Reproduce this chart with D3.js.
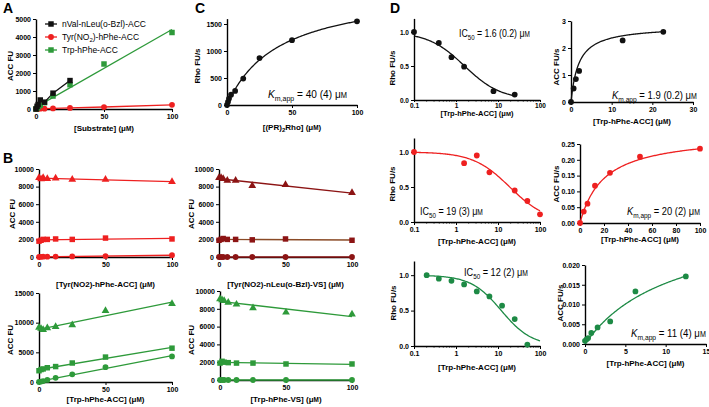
<!DOCTYPE html>
<html><head><meta charset="utf-8">
<script src="https://cdn.jsdelivr.net/npm/d3@7"></script>
<style>body{margin:0;background:#fff}svg{display:block}text{font-family:"Liberation Sans",Arial,sans-serif}</style>
</head><body><svg id="c" width="709" height="407"></svg>
<script>
// ---------------- DATA ----------------
// Panel A
const aConcBlack = [0, 0.78, 1.56, 3.125, 6.25, 12.5, 25];
const aBlack = [0, 150, 250, 500, 380, 880, 1580];
const aConc = [0, 0.78, 1.56, 3.125, 6.25, 12.5, 25, 50, 100];
const aRed = [0, 5, 10, 15, 20, 30, 60, 110, 230];
const aGreen = [0, 40, 100, 200, 350, 720, 1350, 2500, 4250];
const aLegend = ["nVal-nLeu(o-Bzl)-ACC", "Tyr(NO2)-hPhe-ACC", "Trp-hPhe-ACC"];
// Panel B
const bConc = [0, 1.56, 3.125, 6.25, 12.5, 25, 50, 100];
const b1Tri = [9000, 8850, 9000, 8900, 8950, 8800, 8800, 8550];
const b1Sq = [1800, 1900, 2000, 2000, 2050, 2000, 2150, 2050];
const b1Circ = [0, 20, 30, 40, 50, 70, 100, 200];
const b2Tri = [9000, 9000, 8900, 8700, 8700, 8100, 8200, 7300];
const b2Sq = [1900, 2000, 2100, 2000, 2000, 1950, 2050, 1900];
const b2Circ = [0, 0, 0, 0, 0, 0, 0, 0];
const b3Tri = [9200, 9000, 8800, 9100, 9300, 9600, 12000, 13200];
const b3Sq = [1900, 2100, 2200, 2400, 2600, 3200, 4200, 5700];
const b3Circ = [0, 80, 150, 350, 700, 1300, 2500, 4300];
const b4Tri = [9100, 9000, 8900, 8700, 8500, 8100, 7600, 7400];
const b4Sq = [1900, 2100, 2000, 1950, 1900, 1900, 1800, 1800];
const b4Circ = [0, 0, 0, 0, 0, 0, 0, 0];
// Panel C
const cConc = [0, 0.78, 1.56, 3.125, 6.25, 12.5, 25, 50, 100];
const cRate = [0, 60, 120, 190, 260, 490, 870, 1200, 1550];
const cFit = {km: 40, vmax: 2170};
// Panel D
const d1Conc = [0.1, 0.39, 0.78, 1.56, 7.8, 25];
const d1Rho = [1.0, 0.84, 0.63, 0.49, 0.13, 0.08];
const d1Fit = {ic50: 1.6, hill: 1.0};
const d1kConc = [0, 0.65, 1.2, 2.0, 12.7, 22.7];
const d1kRate = [0, 0.5, 0.85, 1.15, 2.28, 2.6];
const d1kFit = {km: 1.9, vmax: 2.82};
const d2Conc = [0.1, 1.56, 3.125, 6.25, 25, 50, 100];
const d2Rho = [1.0, 0.84, 0.95, 0.71, 0.45, 0.30, 0.11];
const d2Fit = {ic50: 19, hill: 1.0};
const d2kConc = [0, 3.125, 6.25, 12.5, 25, 50, 100];
const d2kRate = [0, 0.036, 0.061, 0.118, 0.159, 0.21, 0.235];
const d2kFit = {km: 20, vmax: 0.282};
const d3Conc = [0.2, 0.39, 0.78, 1.56, 3.125, 6.25, 12.5, 25, 50];
const d3Rho = [1.0, 0.95, 0.92, 0.87, 0.77, 0.70, 0.57, 0.38, 0.02];
const d3Fit = {ic50: 12, hill: 1.2};
const d3kConc = [0, 0.2, 0.39, 0.78, 1.56, 3.125, 6.25, 12.5];
const d3kRate = [0.0008, 0.0012, 0.0015, 0.0028, 0.0042, 0.0057, 0.0133, 0.0171];
const d3kFit = {km: 11, vmax: 0.0323};

// ---------------- STYLE ----------------
const RED = "#ee2020", GREEN = "#2e9a3a", DKRED = "#8c1414", BLACK = "#111", DGREEN = "#1d8a45", BROWN = "#8a4a26";
const svg = d3.select("#c");

function unitLabel(t, prefix) {
  t.append("tspan").text(prefix + "(\u03bc");
  t.append("tspan").attr("font-size", "80%").text("M");
  t.append("tspan").text(")");
}

function panel(p) {
  const g = svg.append("g");
  const x = (p.log ? d3.scaleLog() : d3.scaleLinear()).domain(p.xd).range(p.xr);
  const y = d3.scaleLinear().domain(p.yd).range(p.yr);
  const ts = p.tight ? 2 : 3;
  const ya = d3.axisLeft(y).tickValues(p.yt).tickFormat(p.yf || (d => d)).tickSize(3).tickSizeOuter(0).tickPadding(2);
  const xa = d3.axisBottom(x).tickValues(p.xt).tickFormat(p.xf || (d => d)).tickSize(ts).tickSizeOuter(0).tickPadding(p.tight ? 1.5 : 2.5);
  const gy = g.append("g").attr("transform", `translate(${p.xr[0]},0)`).call(ya);
  const gx = g.append("g").attr("transform", `translate(0,${p.yr[0]})`).call(xa);
  if (p.log) {
    const minors = [];
    for (let dec = 0.1; dec < 100; dec *= 10) for (let k = 2; k <= 9; k++) minors.push(dec * k);
    gx.selectAll(".minor").data(minors).join("line").attr("class", "minor")
      .attr("x1", d => x(d)).attr("x2", d => x(d)).attr("y1", 0).attr("y2", 1.6).attr("stroke", "#000").attr("stroke-width", 0.8);
  }
  [gx, gy].forEach(a => {
    a.select(".domain").attr("stroke", "#000").attr("stroke-width", 1.4);
    a.selectAll(".tick line").attr("stroke", "#000").attr("stroke-width", 1);
    a.selectAll("text").attr("font-size", p.tight ? 6.5 : 7).attr("font-weight", "bold").attr("fill", "#000")
      .attr("font-family", "'Liberation Sans',Arial,sans-serif");
  });
  // axis titles
  const xt = g.append("text").attr("x", (p.xr[0] + p.xr[1]) / 2 + (p.xlabDx || 0)).attr("y", p.xlabY)
    .attr("dy", "0.35em").attr("text-anchor", "middle").attr("font-size", p.tight ? 7.5 : 8).attr("font-weight", "bold");
  if (p.xlabFn) p.xlabFn(xt); else unitLabel(xt, p.xlab);
  g.append("text").attr("transform", `translate(${p.ylabX},${p.ylabY}) rotate(-90)`)
    .attr("dy", "0.35em").attr("text-anchor", "middle").attr("font-size", 8).attr("font-weight", "bold").text(p.ylab);
  return {g, x, y};
}

function symbolPath(shape) {
  const m = {circle: [d3.symbolCircle, 26], square: [d3.symbolSquare, 30], triangle: [d3.symbolTriangle, 26]};
  return d3.symbol().type(m[shape][0]).size(m[shape][1])();
}

function linreg(xs, ys) {
  const mx = d3.mean(xs), my = d3.mean(ys);
  let sxy = 0, sxx = 0;
  xs.forEach((v, i) => { sxy += (v - mx) * (ys[i] - my); sxx += (v - mx) * (v - mx); });
  const b = sxy / sxx; return v => my + b * (v - mx);
}

function drawLine(P, pts, color, w) {
  P.g.append("path").datum(pts).attr("fill", "none").attr("stroke", color).attr("stroke-width", w || 1.3)
    .attr("d", d3.line().x(d => P.x(d[0])).y(d => P.y(d[1])));
}

function points(P, xs, ys, color, shape) {
  P.g.append("g").selectAll("path").data(xs.map((v, i) => [v, ys[i]])).join("path")
    .attr("d", symbolPath(shape)).attr("fill", color)
    .attr("transform", d => `translate(${P.x(d[0])},${P.y(d[1])})`);
}

function fitLine(P, fn, x0, x1, color, log) {
  const n = 120, pts = [];
  for (let i = 0; i <= n; i++) {
    const t = i / n;
    const xv = log ? Math.pow(10, Math.log10(x0) + t * (Math.log10(x1) - Math.log10(x0))) : x0 + t * (x1 - x0);
    pts.push([xv, fn(xv)]);
  }
  drawLine(P, pts, color, 1.3);
}
const mm = f => v => f.vmax * v / (f.km + v);
const ic = f => v => 1 / (1 + Math.pow(v / f.ic50, f.hill));

// ---------------- PANEL A ----------------
const A = panel({xd: [0, 100], xr: [36, 172], yd: [0, 5000], yr: [109, 19], yt: d3.range(0, 5001, 1000), xt: [0, 50, 100],
  xlab: "[Substrate] ", xlabY: 128, ylab: "ACC FU", ylabX: 10, ylabY: 66});
drawLine(A, aConc.map((v, i) => [v, aRed[i]]), RED);
const gA = linreg(aConc, aGreen);
drawLine(A, [[0, gA(0)], [100, gA(100)]], GREEN);
drawLine(A, aConcBlack.map((v, i) => [v, aBlack[i]]), BLACK);
points(A, aConc, aRed, RED, "circle");
points(A, aConc, aGreen, GREEN, "square");
points(A, aConcBlack, aBlack, BLACK, "square");
// legend
[[BLACK, "square"], [RED, "circle"], [GREEN, "square"]].forEach((s, i) => {
  const yy = 24 + i * 13;
  svg.append("line").attr("x1", 45).attr("x2", 57).attr("y1", yy).attr("y2", yy).attr("stroke", s[0]).attr("stroke-width", 1.3);
  svg.append("path").attr("d", symbolPath(s[1])).attr("fill", s[0]).attr("transform", `translate(51,${yy})`);
  const t = svg.append("text").attr("x", 62).attr("y", yy).attr("dy", "0.35em").attr("font-size", 8.5);
  if (i === 1) {
    t.append("tspan").text("Tyr(NO");
    t.append("tspan").attr("font-size", 6).attr("dy", 2).text("2");
    t.append("tspan").attr("dy", -2).text(")-hPhe-ACC");
  } else t.text(aLegend[i]);
});

// ---------------- PANEL B ----------------
function bPanel(cfg, tri, sq, circ, col, sqLineCol) {
  const P = panel(cfg);
  [[tri, "triangle", col], [sq, "square", sqLineCol || col], [circ, "circle", col]].forEach(s => {
    const f = linreg(bConc, s[0]);
    drawLine(P, [[0, f(0)], [100, f(100)]], s[2]);
  });
  points(P, bConc, tri, col, "triangle");
  points(P, bConc, sq, col, "square");
  points(P, bConc, circ, col, "circle");
}
bPanel({xd: [0, 100], xr: [39, 172], yd: [0, 10000], yr: [257, 169], yt: d3.range(0, 10001, 2000), xt: [0, 50, 100],
  xlab: "[Tyr(NO2)-hPhe-ACC] ", xlabY: 284, ylab: "ACC FU", ylabX: 12, ylabY: 214}, b1Tri, b1Sq, b1Circ, RED);
bPanel({xd: [0, 100], xr: [219, 352], yd: [0, 10000], yr: [257, 169], yt: d3.range(0, 10001, 2000), xt: [0, 50, 100],
  xlab: "[Tyr(NO2)-nLeu(o-Bzl)-VS] ", xlabY: 284, ylab: "ACC FU", ylabX: 191, ylabY: 214}, b2Tri, b2Sq, b2Circ, DKRED, BROWN);
bPanel({xd: [0, 100], xr: [39, 172], yd: [0, 15000], yr: [382, 293], yt: [0, 5000, 10000, 15000], xt: [0, 50, 100],
  xlab: "[Trp-hPhe-ACC] ", xlabY: 399, ylab: "ACC FU", ylabX: 10, ylabY: 340}, b3Tri, b3Sq, b3Circ, GREEN);
bPanel({xd: [0, 100], xr: [220, 352], yd: [0, 10000], yr: [380, 291], yt: d3.range(0, 10001, 2000), xt: [0, 50, 100],
  xlab: "[Trp-hPhe-VS] ", xlabY: 399, ylab: "ACC FU", ylabX: 191, ylabY: 340}, b4Tri, b4Sq, b4Circ, GREEN);

// ---------------- PANEL C ----------------
const C = panel({xd: [0, 100], xr: [227, 357], yd: [0, 1600], yr: [105, 18.6], yt: [0, 500, 1000, 1500], xt: [0, 50, 100],
  xlabY: 127, ylab: "Rho FU/s", ylabX: 197, ylabY: 66,
  xlabFn: t => { t.append("tspan").text("[(PR)"); t.append("tspan").attr("font-size", 6).attr("dy", 2).text("2");
    t.append("tspan").attr("dy", -2).text("Rho] "); unitLabel(t, ""); }});
fitLine(C, mm(cFit), 0, 100, BLACK);
points(C, cConc, cRate, BLACK, "circle");

// ---------------- PANEL D ----------------
const logT = [0.1, 1, 10, 100];
const logF = d => d;
const D1 = panel({log: true, tight: true, xd: [0.1, 100], xr: [414, 540], yd: [0, 1.2], yr: [100, 18.4], yt: [0, 0.5, 1], yf: d3.format(".1f"),
  xt: logT, xf: logF, xlab: "[Trp-hPhe-ACC] ", xlabY: 113, ylab: "Rho FU/s", ylabX: 392, ylabY: 68});
fitLine(D1, ic(d1Fit), 0.1, 25, BLACK, true);
points(D1, d1Conc, d1Rho, BLACK, "circle");
const D1k = panel({xd: [0, 30], xr: [571, 693], yd: [0, 3], yr: [102, 21], yt: [0, 1, 2, 3], xt: [0, 10, 20, 30],
  xlab: "[Trp-hPhe-ACC] ", xlabY: 121, ylab: "ACC FU/s", ylabX: 556, ylabY: 67});
fitLine(D1k, mm(d1kFit), 0, 22.7, BLACK);
points(D1k, d1kConc, d1kRate, BLACK, "circle");

const D2 = panel({log: true, xd: [0.1, 100], xr: [414, 540], yd: [0, 1.2], yr: [222, 138], yt: [0, 0.5, 1], yf: d3.format(".1f"),
  xt: logT, xf: logF, xlab: "[Trp-hPhe-ACC] ", xlabY: 241, ylab: "Rho FU/s", ylabX: 392, ylabY: 184});
fitLine(D2, ic(d2Fit), 0.1, 100, RED, true);
points(D2, d2Conc, d2Rho, RED, "circle");
const D2k = panel({xd: [0, 100], xr: [580, 700], yd: [0, 0.25], yr: [223, 144], yt: d3.range(0, 0.2501, 0.05), yf: d3.format(".2f"),
  xt: d3.range(0, 101, 20), xlab: "[Trp-hPhe-ACC] ", xlabY: 239, ylab: "ACC FU/s", ylabX: 556, ylabY: 184});
fitLine(D2k, mm(d2kFit), 0, 100, RED);
points(D2k, d2kConc, d2kRate, RED, "circle");

const D3 = panel({log: true, xd: [0.1, 100], xr: [414, 540], yd: [0, 1.2], yr: [346, 261], yt: [0, 0.5, 1], yf: d3.format(".1f"),
  xt: logT, xf: logF, xlab: "[Trp-hPhe-ACC] ", xlabY: 367, ylab: "Rho FU/s", ylabX: 393, ylabY: 303});
fitLine(D3, ic(d3Fit), 0.2, 100, DGREEN, true);
points(D3, d3Conc, d3Rho, DGREEN, "circle");
const D3k = panel({xd: [0, 15], xr: [585, 706], yd: [0, 0.02], yr: [344, 265], yt: d3.range(0, 0.02001, 0.005), yf: d3.format(".3f"),
  xt: [0, 5, 10, 15], xlab: "[Trp-hPhe-ACC] ", xlabY: 363, ylab: "ACC FU/s", ylabX: 560, ylabY: 303});
fitLine(D3k, mm(d3kFit), 0, 12.5, DGREEN);
points(D3k, d3kConc, d3kRate, DGREEN, "circle");

// annotations (scaled horizontally to the reference's narrow typeface width)
function annot(x, y, width, isKm, val) {
  const g = svg.append("g");
  const t = g.append("text").attr("x", 0).attr("y", 0).attr("font-size", 11.5);
  if (isKm) {
    t.append("tspan").attr("font-style", "italic").text("K");
    t.append("tspan").attr("font-size", 8).attr("dy", 3).text("m,app");
  } else {
    t.append("tspan").text("IC");
    t.append("tspan").attr("font-size", 8).attr("dy", 3).text("50");
  }
  t.append("tspan").attr("dy", -3).text(" = " + val + " \u03bc");
  t.append("tspan").attr("font-size", 8.5).text("M");
  const w = t.node().getComputedTextLength();
  g.attr("transform", `translate(${x},${y}) scale(${width / w},1)`);
}
annot(268, 98, 79, true, "40 (4)");
annot(459, 37, 71, false, "1.6 (0.2)");
annot(612, 99, 85, true, "1.9 (0.2)");
annot(420, 215, 63, false, "19 (3)");
annot(627, 215, 73, true, "20 (2)");
annot(464, 276, 64, false, "12 (2)");
annot(631, 337, 75, true, "11 (4)");

// panel letters
[["A", 3, 13], ["B", 3, 163], ["C", 195, 13], ["D", 390, 13]].forEach(l =>
  svg.append("text").attr("x", l[1]).attr("y", l[2]).attr("font-size", 14).attr("font-weight", "bold").text(l[0]));
</script></body></html>
